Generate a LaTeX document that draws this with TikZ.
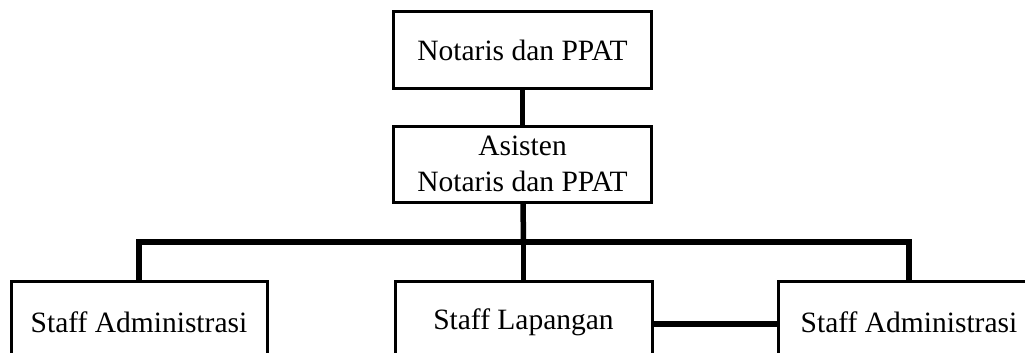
\documentclass[tikz,border=0pt]{standalone}
\usepackage{fontspec}
\setmainfont{Liberation Serif}
\begin{document}
\begin{tikzpicture}[x=1pt,y=-1pt,
  box/.style={draw=black,line width=3pt,fill=white,inner sep=0pt,align=center,
    font=\fontsize{29.5}{36}\selectfont},
  conn/.style={line width=5.5pt,black}]
\useasboundingbox (0,0) rectangle (1025,353);
\begin{scope}
\clip (0,0) rectangle (1025,353);
\node[box,minimum width=258pt,minimum height=76pt] (top) at (522.5,50) {Notaris dan PPAT};
\node[box,minimum width=258pt,minimum height=76pt] (asst) at (522.5,164) {Asisten\\Notaris dan PPAT};
\node[box,minimum width=256pt,minimum height=82pt] (left) at (139,322) {Staff Administrasi};
\node[box,minimum width=257pt,minimum height=82pt] (mid) at (523.5,322) {Staff Lapangan};
\node[box,minimum width=262pt,minimum height=82pt] (right) at (909,322) {Staff Administrasi};
\coordinate (bus) at (523.5,242);
\draw[conn] (top) -- (asst);
\draw[conn] (asst) -- (bus);
\draw[conn] (left.north) |- (bus) -| (right.north);
\draw[conn] (bus) -- (mid.north);
\draw[conn] ([yshift=-2pt]mid.east) -- ([yshift=-2pt]right.west);
\end{scope}
\end{tikzpicture}
\end{document}
